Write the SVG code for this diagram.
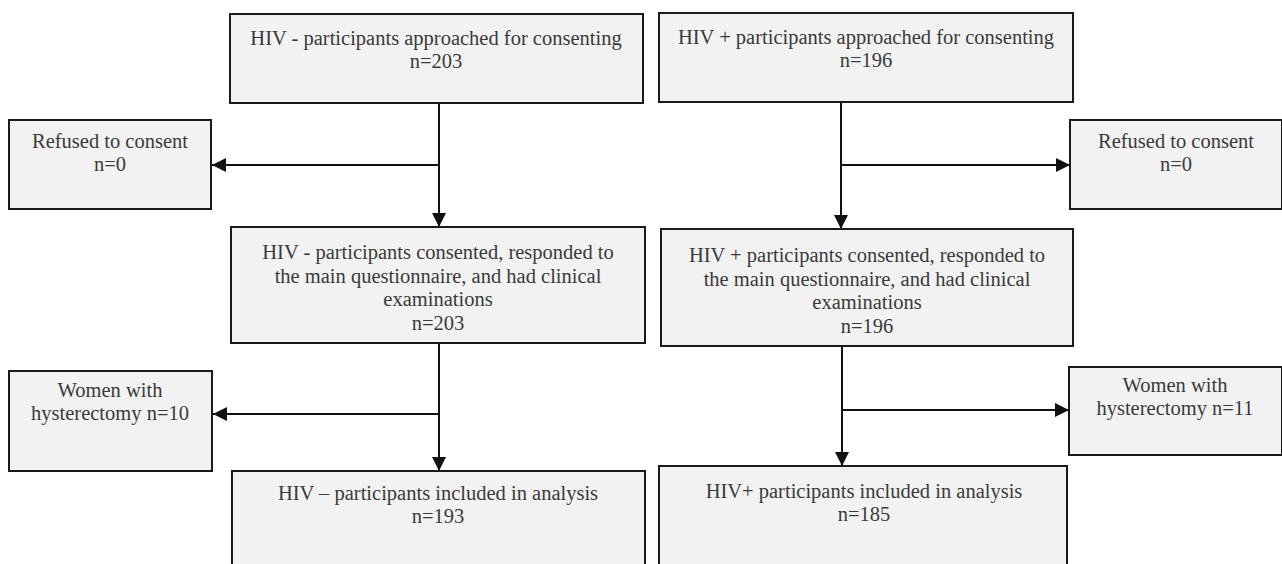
<svg xmlns="http://www.w3.org/2000/svg" width="1282" height="564" viewBox="0 0 1282 564">
<style>
.box{fill:#f2f2f2;stroke:#1a1a1a;stroke-width:2}
text{font-family:"Liberation Serif","Times New Roman",serif;font-size:20.5px;fill:#3a3a3a;text-anchor:middle}
.line{stroke:#111;stroke-width:2;fill:none}
</style>
<defs>
<marker id="ahb" markerWidth="14" markerHeight="14" refX="14" refY="7" orient="auto" markerUnits="userSpaceOnUse" viewBox="0 0 14 14">
<path d="M0,0 L14,7 L0,14 z" fill="#111"/>
</marker>
</defs>
<rect x="0" y="0" width="1282" height="564" fill="#fff"/>
<g id="connectors">
<path class="line" d="M439,103 V227" marker-end="url(#ahb)"/>
<path class="line" d="M439,165 H212" marker-end="url(#ahb)"/>
<path class="line" d="M841,102 V229" marker-end="url(#ahb)"/>
<path class="line" d="M841,165 H1070" marker-end="url(#ahb)"/>
<path class="line" d="M439,343 V471" marker-end="url(#ahb)"/>
<path class="line" d="M439,414 H213" marker-end="url(#ahb)"/>
<path class="line" d="M842,346 V466" marker-end="url(#ahb)"/>
<path class="line" d="M842,410 H1069" marker-end="url(#ahb)"/>
</g>
<g id="n1"><rect class="box" x="230" y="14" width="413" height="89"/>
<text x="436" y="45">HIV - participants approached for consenting</text><text x="436" y="68">n=203</text></g>
<g id="n2"><rect class="box" x="659" y="13" width="414" height="89"/>
<text x="866" y="44">HIV + participants approached for consenting</text><text x="866" y="67">n=196</text></g>
<g id="n3"><rect class="box" x="9" y="120" width="202" height="89"/>
<text x="110" y="148">Refused to consent</text><text x="110" y="171">n=0</text></g>
<g id="n4"><rect class="box" x="1070" y="120" width="212" height="89"/>
<text x="1176" y="148">Refused to consent</text><text x="1176" y="171">n=0</text></g>
<g id="n5"><rect class="box" x="231" y="227" width="414" height="116"/>
<text x="438" y="259">HIV - participants consented, responded to</text><text x="438" y="282.5">the main questionnaire, and had clinical</text><text x="438" y="306">examinations</text><text x="438" y="329.5">n=203</text></g>
<g id="n6"><rect class="box" x="661" y="229" width="412" height="117"/>
<text x="867" y="262">HIV + participants consented, responded to</text><text x="867" y="285.5">the main questionnaire, and had clinical</text><text x="867" y="309">examinations</text><text x="867" y="332.5">n=196</text></g>
<g id="n7"><rect class="box" x="9" y="371" width="203" height="100"/>
<text x="110" y="397">Women with</text><text x="110" y="420">hysterectomy n=10</text></g>
<g id="n8"><rect class="box" x="1069" y="367" width="213" height="88"/>
<text x="1175" y="392">Women with</text><text x="1175" y="415">hysterectomy n=11</text></g>
<g id="n9"><rect class="box" x="232" y="471" width="413" height="100"/>
<text x="438" y="500">HIV – participants included in analysis</text><text x="438" y="523">n=193</text></g>
<g id="n10"><rect class="box" x="659" y="466" width="408" height="105"/>
<text x="864" y="498">HIV+ participants included in analysis</text><text x="864" y="521">n=185</text></g>
</svg>
